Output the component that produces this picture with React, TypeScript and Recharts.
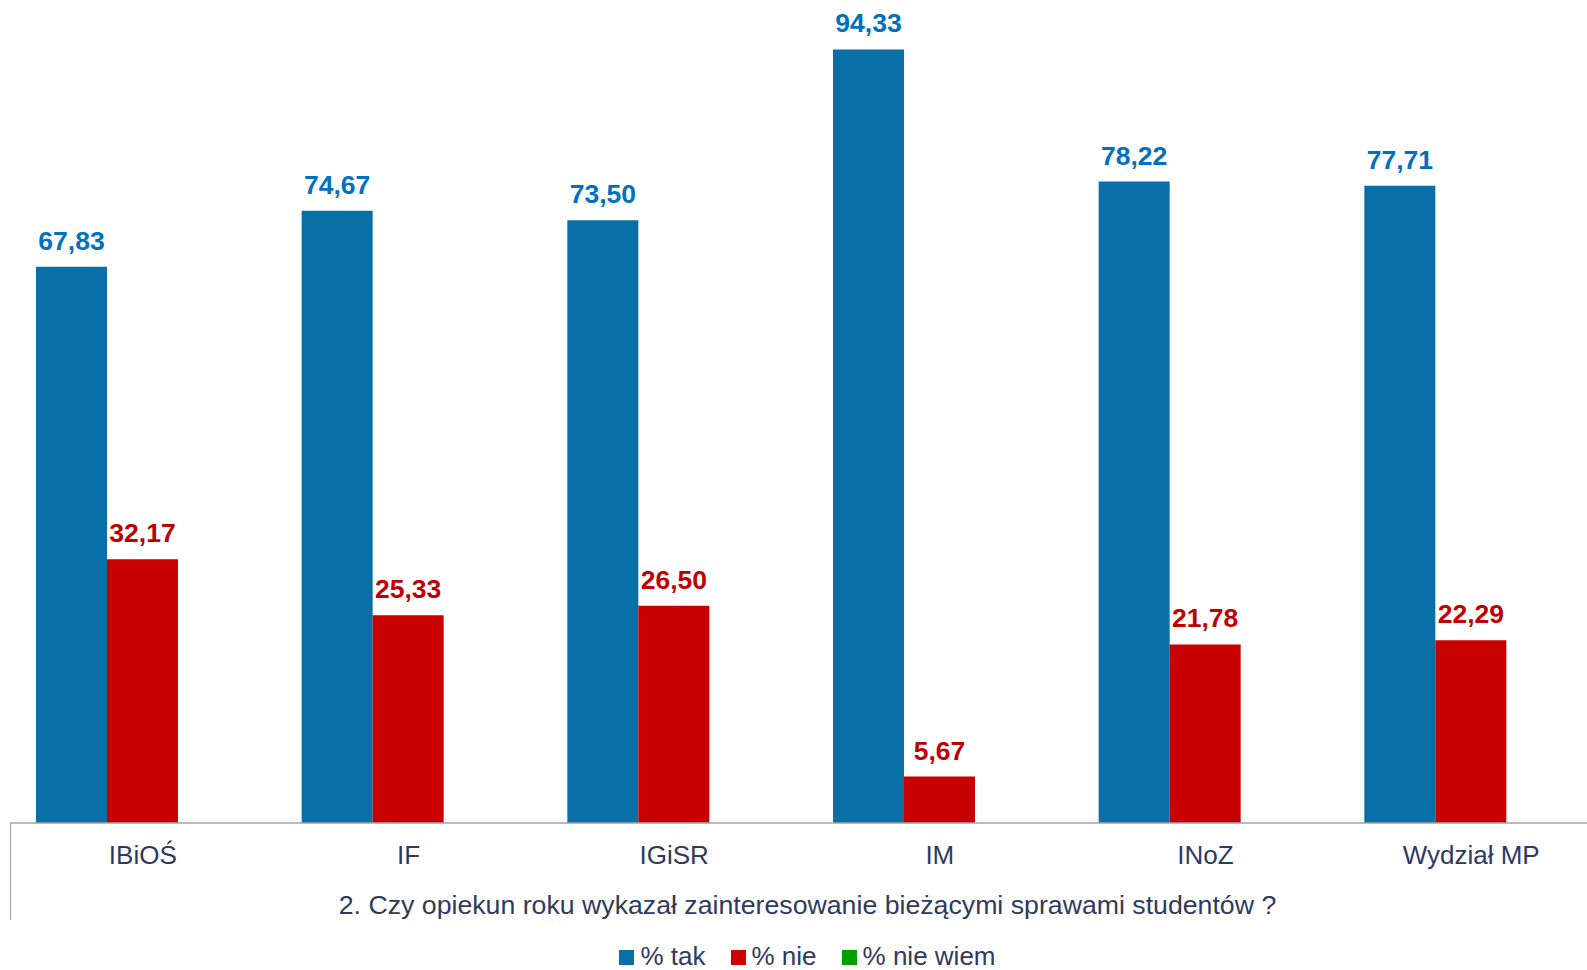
import React from 'react';
import { Bar, BarChart, LabelList, Legend, XAxis, YAxis } from 'recharts';

const categories = ['IBiOŚ', 'IF', 'IGiSR', 'IM', 'INoZ', 'Wydział MP'];
const takValues = [67.83, 74.67, 73.5, 94.33, 78.22, 77.71];
const nieValues = [32.17, 25.33, 26.5, 5.67, 21.78, 22.29];
const nieWiemValues = [0, 0, 0, 0, 0, 0];

const seriesNames = ['% tak', '% nie', '% nie wiem'];
const seriesColors = ['#0870A6', '#C80000', '#00A000'];
const labelColors = ['#0070C0', '#C00000'];

const title = '2. Czy opiekun roku wykazał zainteresowanie bieżącymi sprawami studentów ?';

const FONT = '"Liberation Sans", Arial, sans-serif';
const TEXT_COLOR = '#2E3A5F';

const chartData = categories.map((name, i) => ({
  name,
  tak: takValues[i],
  nie: nieValues[i],
  nieWiem: nieWiemValues[i],
}));

const fmt = (v: any) => Number(v).toFixed(2).replace('.', ',');

// title + legend, Excel style
const LegendBox = () => (
  <div style={{ fontFamily: FONT, color: TEXT_COLOR, fontSize: 26, lineHeight: '26px', width: 1587, paddingLeft: 28, boxSizing: 'border-box' }}>
    <div style={{ textAlign: 'center', height: 51, fontSize: 26.7 }}>{title}</div>
    <div style={{ display: 'flex', justifyContent: 'center' }}>
      {seriesNames.map((n, i) => (
        <div key={n} style={{ display: 'flex', alignItems: 'center', marginRight: i < 2 ? 25 : 0 }}>
          <span style={{ width: 15, height: 15, background: seriesColors[i], display: 'inline-block', marginRight: 6, marginTop: 2 }} />
          <span>{n}</span>
        </div>
      ))}
    </div>
  </div>
);

export default function App() {
  return (
    <div style={{ position: 'absolute', left: 0, top: 0, width: 1587, height: 970, background: '#fff', overflow: 'hidden' }}>
      <BarChart
        width={1604}
        height={970}
        data={chartData}
        margin={{ top: 3, right: 0, left: 10, bottom: 87 }}
        barCategoryGap={26}
        barGap={0}
      >
        <XAxis
          dataKey="name"
          height={60}
          axisLine={{ stroke: '#A3A3B0', strokeWidth: 1.5 }}
          tickLine={false}
          tickSize={0}
          tickMargin={23}
          interval={0}
          tick={{ fontSize: 26, fill: TEXT_COLOR, fontFamily: FONT }}
        />
        <YAxis hide domain={[0, 100]} />
        <Legend
          verticalAlign="middle"
          align="center"
          content={() => <LegendBox />}
          wrapperStyle={{ top: 892, left: 0, width: 1587 }}
        />
        <Bar dataKey="tak" name={seriesNames[0]} fill={seriesColors[0]} isAnimationActive={false}>
          <LabelList
            dataKey="tak"
            position="top"
            offset={17}
            formatter={fmt}
            style={{ fontSize: 26.5, fontWeight: 'bold', fill: labelColors[0], fontFamily: FONT }}
          />
        </Bar>
        <Bar dataKey="nie" name={seriesNames[1]} fill={seriesColors[1]} isAnimationActive={false}>
          <LabelList
            dataKey="nie"
            position="top"
            offset={17}
            formatter={fmt}
            style={{ fontSize: 26.5, fontWeight: 'bold', fill: labelColors[1], fontFamily: FONT }}
          />
        </Bar>
        <Bar dataKey="nieWiem" name={seriesNames[2]} fill={seriesColors[2]} isAnimationActive={false} />
      </BarChart>
      <div style={{ position: 'absolute', left: 10, top: 823, width: 0, height: 97, borderLeft: '1.5px solid #A3A3B0' }} />
    </div>
  );
}
